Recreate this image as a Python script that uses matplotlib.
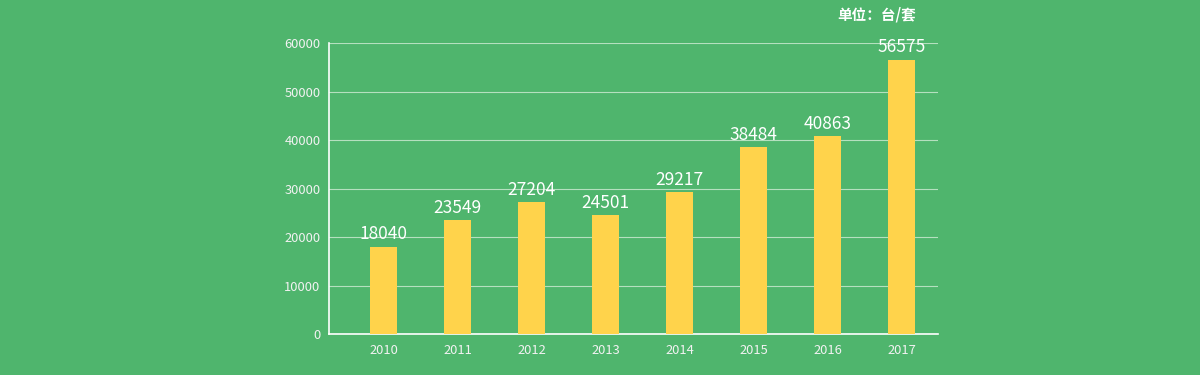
import numpy as np
import matplotlib.pyplot as plt

plt.rcParams['font.family'] = ['Noto Sans CJK SC', 'DejaVu Sans']

# 数据
years = ['2010', '2011', '2012', '2013', '2014', '2015', '2016', '2017']
values = [18040, 23549, 27204, 24501, 29217, 38484, 40863, 56575]
yticks = [0, 10000, 20000, 30000, 40000, 50000, 60000]

bg = '#4fb56d'
bar_color = '#ffd34b'

fig = plt.figure(figsize=(12, 3.75), dpi=100, facecolor=bg)
ax = fig.add_axes([0.274, 0.109, 0.5075, 0.776])
ax.set_facecolor(bg)

x = np.arange(len(years))
ax.bar(x, values, width=0.36, color=bar_color, zorder=3)

for xi, v in zip(x, values):
    ax.text(xi, v + 700, str(v), ha='center', va='bottom',
            color='white', fontsize=12.5, fontweight='medium', zorder=4)

ax.set_xlim(-0.74, 7.49)
ax.set_ylim(0, 60000)
ax.set_yticks(yticks)
ax.set_yticklabels([str(t) for t in yticks])
ax.set_xticks(x)
ax.set_xticklabels(years)

ax.grid(axis='y', color='#b5e0bf', linewidth=0.8, zorder=1)
ax.tick_params(colors='white', labelcolor='#f2f2f2', labelsize=9.3, length=0)
ax.tick_params(axis='x', pad=7)
ax.tick_params(axis='y', pad=6)

for s in ['top', 'right']:
    ax.spines[s].set_visible(False)
for s in ['left', 'bottom']:
    ax.spines[s].set_color('white')
    ax.spines[s].set_linewidth(1.2)

fig.text(0.698, 0.962, '单位：台/套', color='white', fontsize=10.5,
         fontweight='bold', ha='left', va='center')

fig.savefig('out.png', facecolor=bg)
